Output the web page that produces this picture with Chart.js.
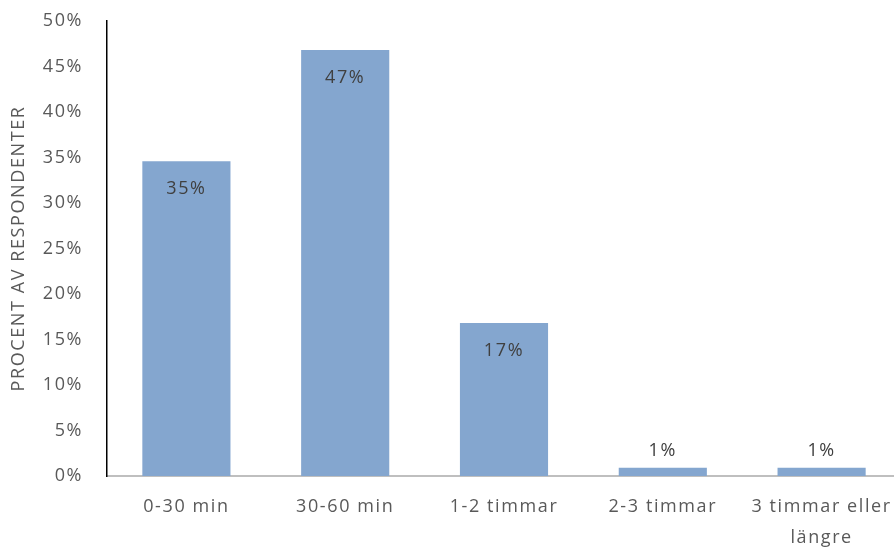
<!DOCTYPE html>
<html>
<head>
<meta charset="utf-8">
<script src="https://cdn.jsdelivr.net/npm/chart.js@4"></script>
<style>
  html, body { margin: 0; padding: 0; overflow: hidden; background: #fff; }
</style>
</head>
<body>
<canvas id="chart" width="902" height="549"></canvas>
<script>
const categories = ['0-30 min', '30-60 min', '1-2 timmar', '2-3 timmar', ['3 timmar eller', 'längre']];
const values = [34.6, 46.8, 16.8, 0.9, 0.9];
const yMax = 50;
const yStep = 5;

const FONT = '"Open Sans", "Noto Sans", sans-serif';
const SPACING = '1.6px';

// the original text is set quite loose, so widen it a little
const looseText = {
    id: 'looseText',
    beforeUpdate(chart) {
        chart.ctx.letterSpacing = SPACING;
    },
    beforeDraw(chart) {
        chart.ctx.letterSpacing = SPACING;
    }
};

// labels like excel: inside near top for tall bars, above for tiny ones
const barLabels = {
    id: 'barLabels',
    afterDatasetsDraw(chart) {
        const ctx = chart.ctx;
        const meta = chart.getDatasetMeta(0);
        ctx.save();
        ctx.font = '18px ' + FONT;
        ctx.fillStyle = '#404040';
        ctx.textAlign = 'center';
        ctx.textBaseline = 'middle';
        meta.data.forEach((bar, i) => {
            const txt = Math.round(values[i]) + '%';
            const h = bar.base - bar.y;
            const y = h > 40 ? bar.y + 28 : bar.y - 17;
            ctx.fillText(txt, bar.x, y);
        });
        ctx.restore();
    }
};

const ctx = document.getElementById('chart').getContext('2d');
const chart = new Chart(ctx, {
    type: 'bar',
    data: {
        labels: categories,
        datasets: [{
            data: values,
            backgroundColor: 'rgb(132, 166, 207)',
            borderWidth: 0,
            barPercentage: 0.555,
            categoryPercentage: 1
        }]
    },
    options: {
        responsive: false,
        animation: false,
        layout: { padding: { top: 21, right: 1, left: 0, bottom: 0 } },
        plugins: {
            legend: { display: false },
            tooltip: { enabled: false }
        },
        scales: {
            x: {
                grid: { display: false, drawTicks: false },
                border: { display: true, color: '#BFBFBF', width: 2 },
                ticks: {
                    color: '#595959',
                    font: { family: FONT, size: 18, lineHeight: 1.72 },
                    padding: 15,
                    maxRotation: 0,
                    autoSkip: false
                },
                afterFit: s => {
                    s.height = 73;
                    s.paddingLeft = 0;
                    s.paddingRight = 0;
                }
            },
            y: {
                min: 0,
                max: yMax,
                grid: { display: false, drawTicks: false },
                border: { display: true, color: '#000000', width: 1.5 },
                ticks: {
                    stepSize: yStep,
                    color: '#595959',
                    font: { family: FONT, size: 18 },
                    padding: 24,
                    callback: v => v + '%'
                },
                title: {
                    display: true,
                    text: 'PROCENT AV RESPONDENTER',
                    color: '#595959',
                    font: { family: FONT, size: 18 },
                    padding: { top: 8, bottom: 0 }
                },
                afterFit: s => {
                    s.width = 107;
                    // tick padding would otherwise push the plot top down
                    s.paddingTop = 0;
                    s.paddingBottom = 0;
                }
            }
        }
    },
    plugins: [looseText, barLabels]
});
</script>
</body>
</html>
